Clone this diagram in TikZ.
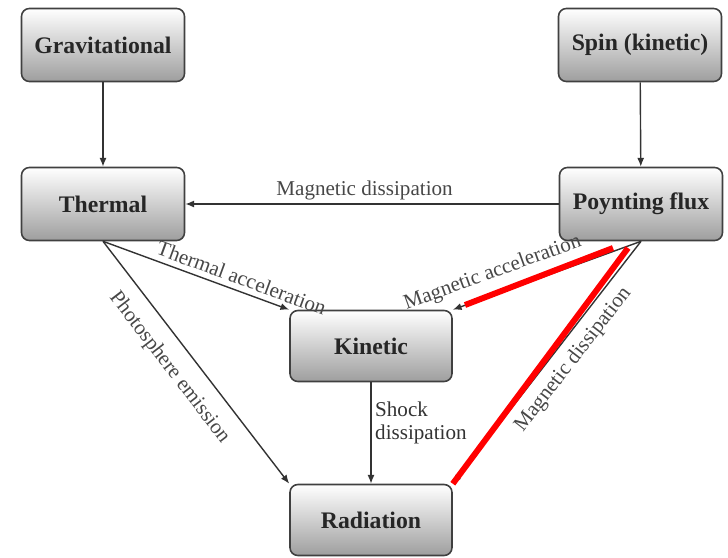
\documentclass[tikz,border=0pt]{standalone}
\usepackage{fontspec}
\setmainfont{Liberation Serif}
\usetikzlibrary{arrows.meta}

\tikzset{
	box/.style={draw=black!75, line width=0.9pt, rounded corners=4.5pt,
		top color=white, bottom color=black!38,
		minimum width=3.26cm, minimum height=1.46cm,
		font=\fontsize{13.5}{16}\selectfont\bfseries, text=black!85},
	flow/.style={draw=black!80, line width=0.8pt, -{Latex[length=5pt,width=4pt]}},
	lbl/.style={font=\fontsize{12}{13}\selectfont, text=black!72, inner sep=2pt},
	hilite/.style={draw=red, line width=3.4pt}
}

\begin{document}
\begin{tikzpicture}
		%%%%% START %%%%%
		\useasboundingbox (0, 0) rectangle (14.56, -11.14);
		
		\node[box] (Grav) at (2.06, -0.9) {Gravitational};
		\node[box] (Spin) at (12.8, -0.9) {Spin (kinetic)};
		\node[box] (Thermal) at (2.06, -4.08) {Thermal};
		\node[box] (Poynting) at (12.82, -4.08) {Poynting flux};
		\node[box, minimum width=3.24cm, minimum height=1.42cm] (Kinetic) at (7.42, -6.92) {Kinetic};
		\node[box, minimum width=3.24cm, minimum height=1.42cm] (Radiation) at (7.42, -10.4) {Radiation};
		
		\draw[flow] (Grav) -- (Thermal);
		\draw[flow] (Spin) -- (Poynting);
		\draw[flow] (Poynting) -- node[lbl, above, pos=0.52] {Magnetic dissipation} (Thermal);
		
		\draw[flow] (Thermal.south) -- node[lbl, sloped, above=1pt, pos=0.72] {Thermal acceleration} (Kinetic.north west);
		\draw[flow] (Thermal.south) -- node[lbl, sloped, below=6pt, pos=0.46] {Photosphere emission} (Radiation.north west);
		
		\draw[flow] (Poynting.south) -- node[lbl, sloped, above=4pt, pos=0.75] {Magnetic acceleration} (Kinetic.north east);
		\draw[flow] (Poynting.south) -- node[lbl, sloped, below=3pt, pos=0.44] {Magnetic dissipation} (Radiation.north east);
		
		\draw[flow] (Kinetic) -- node[lbl, right, align=left, text=black!80, pos=0.4] {Shock\\dissipation} (Radiation);
		
		% red strokes over the two Poynting flux links
		\coordinate (r1a) at (12.26, -4.96);
		\coordinate (r1b) at (9.3, -6.1);
		\coordinate (r2a) at (12.56, -4.96);
		\draw[hilite] (r1a) -- (r1b);
		\draw[hilite] (r2a) -- (Radiation.north east);
		
		%%%%% END %%%%%
	\end{tikzpicture}
\end{document}
